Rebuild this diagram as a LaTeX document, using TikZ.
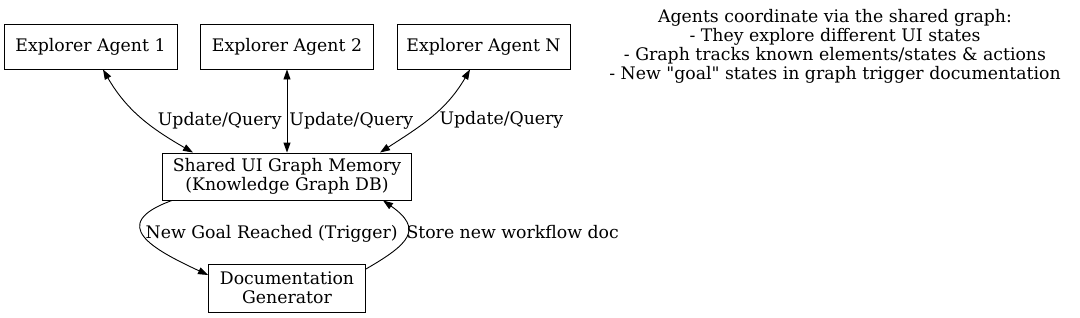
\documentclass[tikz,border=0pt]{standalone}
\usepackage{fontspec}
\setmainfont{DejaVu Serif}
\usetikzlibrary{positioning,arrows.meta}

\begin{document}
\begin{tikzpicture}[
    x=1pt,y=1pt,
    line width=0.9pt,
    >={Triangle[length=10pt,width=7pt]},
    font=\fontsize{17.3}{19}\selectfont,
    box/.style={draw, rectangle, align=center, inner sep=0pt},
    agent/.style={box, minimum width=173pt, minimum height=45pt},
    lbl/.style={anchor=west, inner sep=1pt}
]
    \useasboundingbox (0,0) rectangle (1080,317);

    \node[agent] (agent1) at (90.5,270.5)  {Explorer Agent 1};
    \node[agent] (agent2) at (287,270.5)   {Explorer Agent 2};
    \node[agent] (agentN) at (483.5,270.5) {Explorer Agent N};
    \node[box, minimum width=249pt, minimum height=47pt] (memory) at (287,140.5)
        {Shared UI Graph Memory\\(Knowledge Graph DB)};
    \node[box, minimum width=157pt, minimum height=48pt] (docgen) at (287,29)
        {Documentation\\Generator};
    \node[align=center] (note) at (835,270.5)
        {Agents coordinate via the shared graph:\\
         - They explore different UI states\\
         - Graph tracks known elements/states \& actions\\
         - New \textquotedbl goal\textquotedbl{} states in graph trigger documentation};

    \draw[<->] ([xshift=12.5pt]agent1.south) to[out=-60, in=150]
        node[lbl, pos=0.5, xshift=15pt, yshift=-3pt] {Update/Query} ([xshift=-94pt]memory.north);
    \draw[<->] (agent2.south) --
        node[lbl, pos=0.62, xshift=1pt] {Update/Query} (memory.north);
    \draw[<->] ([xshift=-13.5pt]agentN.south) to[out=-120, in=33]
        node[lbl, pos=0.5, xshift=7pt, yshift=-3pt] {Update/Query} ([xshift=93pt]memory.north);

    \draw[->] ([xshift=-115pt]memory.south) .. controls +(-160:70) and +(155:60) ..
        node[lbl, pos=0.45, inner sep=0pt, xshift=3pt] {New Goal Reached (Trigger)} ([yshift=13pt]docgen.west);
    \draw[->] ([yshift=19pt]docgen.east) .. controls +(30:50) and +(-35:50) ..
        node[lbl, pos=0.5, inner sep=0pt, yshift=4pt] {Store new workflow doc} ([xshift=96pt]memory.south);
\end{tikzpicture}
\end{document}
